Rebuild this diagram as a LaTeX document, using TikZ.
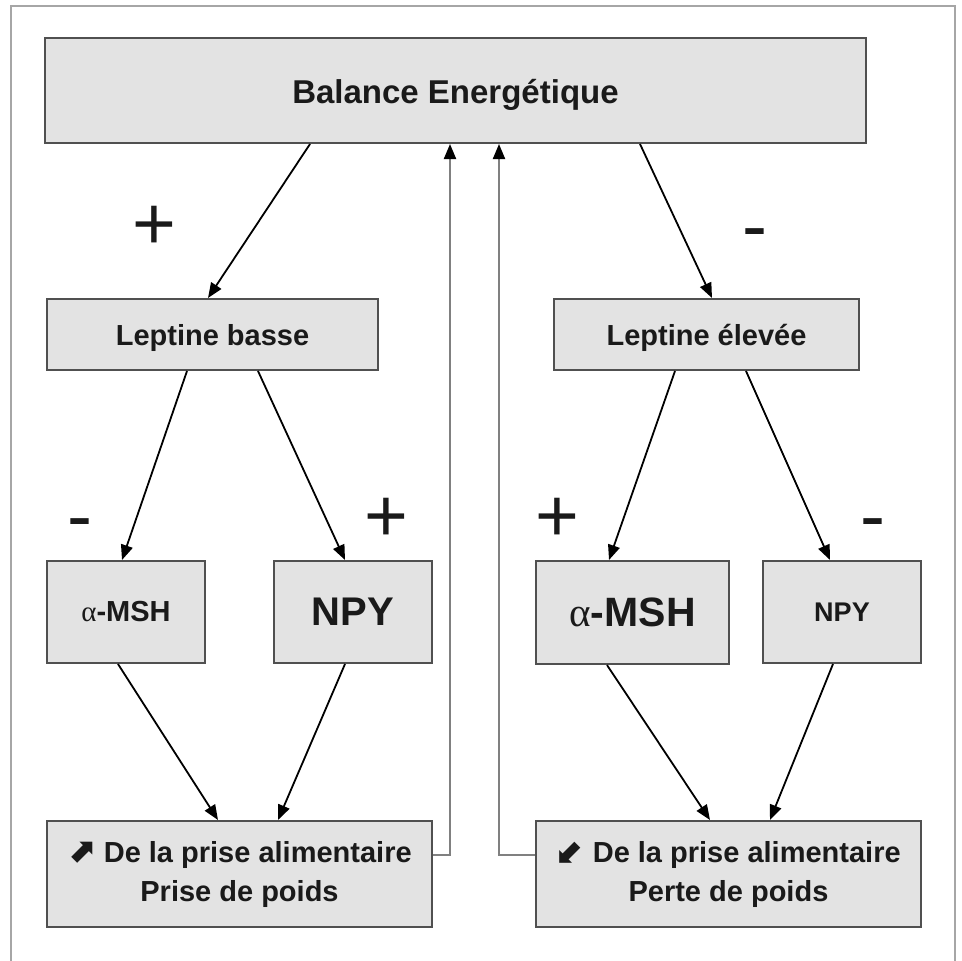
\documentclass[tikz,border=0pt]{standalone}
\usepackage{fontspec}
\setmainfont{Liberation Sans}
\newfontfamily\seriffont{Liberation Serif}
\newfontfamily\symfont{DejaVu Sans}
\usetikzlibrary{arrows.meta}
\definecolor{boxfill}{HTML}{E3E3E3}
\definecolor{boxline}{HTML}{505050}
\definecolor{txt}{HTML}{1A1A1A}
\tikzset{
  box/.style={draw=boxline, line width=2pt, fill=boxfill, text=txt, align=center,
    inner sep=0pt, font=\bfseries\fontsize{29}{39}\selectfont},
  conn/.style={line width=1.8pt, -{Triangle[length=15pt,width=12pt]}},
  fb/.style={line width=2pt, draw=black!50, -{Triangle[length=15pt,width=12pt,color=black]}},
  sign/.style={text=txt, inner sep=0pt, font=\fontsize{75}{75}\selectfont}
}
\begin{document}
\begin{tikzpicture}[x=1pt,y=-1pt]
\useasboundingbox (0,0) rectangle (962,961);
\draw[black!35, line width=1.5pt] (11,961) -- (11,6) -- (955,6) -- (955,961);

\node[box, minimum width=821pt, minimum height=105pt, font=\bfseries\fontsize{33}{39}\selectfont] (bal) at (455.5,90.5) {\raisebox{-4pt}[\height][\depth]{Balance Energétique}};
\node[box, minimum width=331pt, minimum height=71pt] (lb) at (212.5,334.5) {\raisebox{-3pt}[\height][\depth]{Leptine basse}};
\node[box, minimum width=305pt, minimum height=71pt] (le) at (706.5,334.5) {\raisebox{-3pt}[\height][\depth]{Leptine élevée}};
\node[box, minimum width=158pt, minimum height=102pt] (ma1) at (126,612) {{\seriffont\mdseries α}-MSH};
\node[box, minimum width=158pt, minimum height=102pt, font=\bfseries\fontsize{40}{44}\selectfont] (np1) at (353,612) {NPY};
\node[box, minimum width=193pt, minimum height=103pt, font=\bfseries\fontsize{41}{44}\selectfont] (ma2) at (632.5,612.5) {{\seriffont\mdseries α}-MSH};
\node[box, minimum width=158pt, minimum height=102pt, font=\bfseries\fontsize{27}{30}\selectfont] (np2) at (842,612) {NPY};
\node[box, minimum width=385pt, minimum height=106pt] (bl) at (239.5,874) {{\symfont\bfseries\fontsize{34}{39}\selectfont ⬈} De la prise alimentaire\\Prise de poids};
\node[box, minimum width=385pt, minimum height=106pt] (br) at (728.5,874) {{\symfont\bfseries\fontsize{34}{39}\selectfont ⬋} De la prise alimentaire\\Perte de poids};

\node[sign] (s1) at (154,228) {+};
\node[sign] (s2) at (755,240) {-};
\node[sign] (s3) at (80,530) {-};
\node[sign] (s4) at (386,520) {+};
\node[sign] (s5) at (557,520) {+};
\node[sign] (s6) at (873,530) {-};

\draw[conn] ([xshift=-145.5pt]bal.south) -- ([xshift=-4.5pt]lb.north);
\draw[conn] ([xshift=184.5pt]bal.south) -- ([xshift=5.5pt]le.north);
\draw[conn] ([xshift=-25.5pt]lb.south) -- ([xshift=-4pt]ma1.north);
\draw[conn] ([xshift=45.5pt]lb.south) -- ([xshift=-8pt]np1.north);
\draw[conn] ([xshift=-31.5pt]le.south) -- ([xshift=-23.5pt]ma2.north);
\draw[conn] ([xshift=39.5pt]le.south) -- ([xshift=-12pt]np2.north);
\draw[conn] ([xshift=-8pt]ma1.south) -- ([xshift=-21.5pt]bl.north);
\draw[conn] ([xshift=-8pt]np1.south) -- ([xshift=38.5pt]bl.north);
\draw[conn] ([xshift=-25.5pt]ma2.south) -- ([xshift=-18.5pt]br.north);
\draw[conn] ([xshift=-9pt]np2.south) -- ([xshift=41.5pt]br.north);

\draw[fb] ([yshift=19pt]bl.east) -| ([xshift=-5.5pt]bal.south);
\draw[fb] ([yshift=19pt]br.west) -| ([xshift=43.5pt]bal.south);
\end{tikzpicture}
\end{document}
